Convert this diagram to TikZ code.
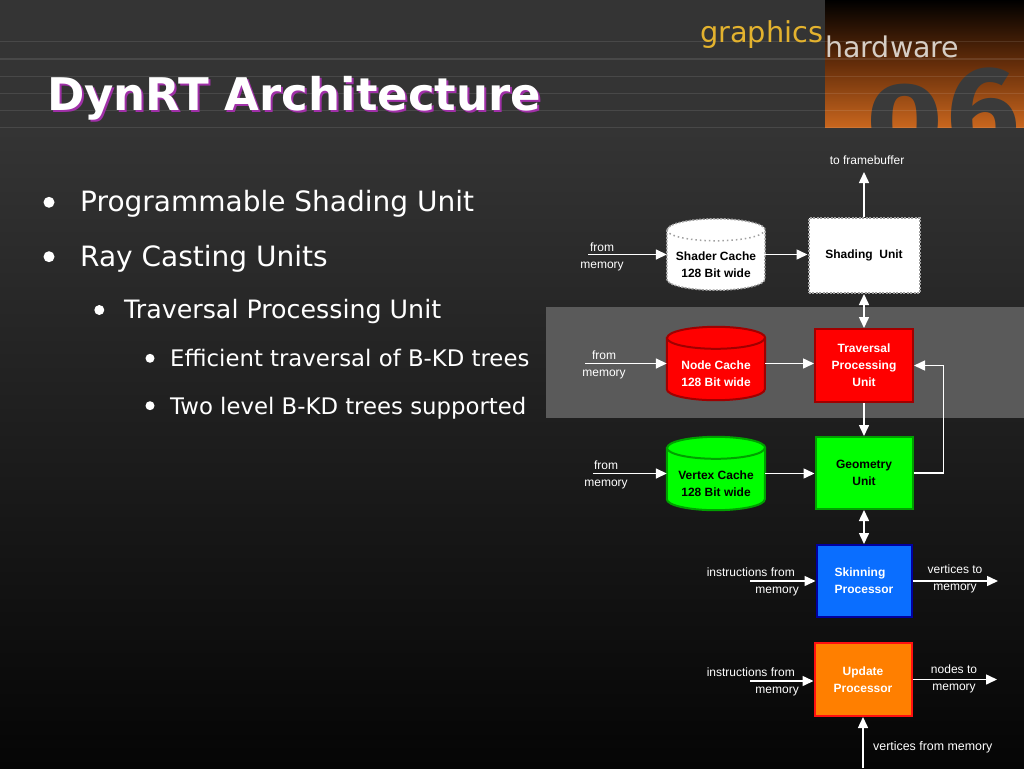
\documentclass[tikz,border=0pt]{standalone}
\usepackage{fontspec}
\setmainfont{DejaVu Sans}
\newfontfamily\diag{Liberation Sans}
\newfontfamily\lognum{Fira Sans}
\usetikzlibrary{arrows.meta}
\definecolor{bgtop}{HTML}{343434}
\definecolor{bgbot}{HTML}{050505}
\definecolor{band}{HTML}{5A5A5A}
\definecolor{gold}{HTML}{E3B22E}
\definecolor{hwgray}{HTML}{D6CEC6}
\definecolor{orng}{HTML}{C8661E}
\definecolor{numgray}{HTML}{3A3A3A}
\definecolor{tshadow}{HTML}{A030A8}
\definecolor{dashgray}{HTML}{A0A0A0}
\definecolor{redfill}{HTML}{FF0000}
\definecolor{redline}{HTML}{A00000}
\definecolor{grnfill}{HTML}{00FF00}
\definecolor{grnline}{HTML}{00A000}
\definecolor{blufill}{HTML}{0A6EFF}
\definecolor{bluline}{HTML}{0000A0}
\definecolor{orgfill}{HTML}{FF7F00}
\definecolor{orgline}{HTML}{FF1010}
\newcommand\mycyl[2]{%
  \draw[#2] ([yshift=-11pt]#1.north west) -- ([yshift=11pt]#1.south west)
    arc[start angle=180,end angle=360,x radius=49pt,y radius=11pt]
    -- ([yshift=-11pt]#1.north east)
    arc[start angle=0,end angle=180,x radius=49pt,y radius=11pt] -- cycle;}
\newcommand\mycylfront[2]{%
  \draw[#2] ([yshift=-11pt]#1.north west)
    arc[start angle=180,end angle=360,x radius=49pt,y radius=11pt];}
\begin{document}
\begin{tikzpicture}[x=1pt,y=-1pt,
  tip/.tip={Triangle[length=11pt,width=10pt]},
  arr/.style={draw=white, line width=1.5pt, -tip},
  darr/.style={draw=white, line width=1.5pt, tip-tip},
  unitbox/.style={rectangle, inner sep=0, line width=2pt, align=center,
    font=\diag\bfseries\fontsize{12}{17}\selectfont},
  cylslot/.style={rectangle, inner sep=0, minimum width=98pt, minimum height=73pt},
  cyltext/.style={inner sep=0, align=center, font=\diag\bfseries\fontsize{12}{17}\selectfont},
  lbl/.style={inner sep=0, text=white, font=\diag\fontsize{12}{17}\selectfont},
  dot/.style={circle, fill=white, inner sep=0},
  bullet1/.style={anchor=base west, inner sep=0, text=white, font=\fontsize{28}{28}\selectfont},
  bullet2/.style={anchor=base west, inner sep=0, text=white, font=\fontsize{25.3}{25.3}\selectfont},
  bullet3/.style={anchor=base west, inner sep=0, text=white, font=\fontsize{22.8}{22.8}\selectfont},
  gridline/.style={draw=white, draw opacity=0.1, line width=1pt}
]
\useasboundingbox (0,0) rectangle (1024,768);
% background
\fill[bgtop] (0,0) rectangle (1024,768);
\shade[top color=bgtop, bottom color=bgbot] (0,130) rectangle (1024,768);
% logo block
\shade[top color=black, bottom color=orng, middle color={rgb,255:red,100;green,45;blue,10}] (825,0) rectangle (1024,127);
\begin{scope}
  \clip (825,0) rectangle (1024,127);
  \node[anchor=base west, inner sep=0, text=numgray, xscale=1.25, font=\lognum\bfseries\fontsize{105}{105}\selectfont] (year0) at (866,156) {0};
  \node[anchor=base west, inner sep=0, text=numgray, font=\lognum\bfseries\fontsize{130}{130}\selectfont] (year6) at (946,157) {6};
\end{scope}
\foreach \yy in {41.5,59,76.5,93.5,110.5,127.5} \draw[gridline] (0,\yy) -- (1024,\yy);
\node[anchor=base west, inner sep=0, text=gold, font=\fontsize{28.8}{28.8}\selectfont] (gfx) at (700,42) {graphics};
\node[anchor=base west, inner sep=0, text=hwgray, font=\fontsize{28.5}{28.5}\selectfont] (hw) at (825,58) {hardware};
% title
\node[anchor=base west, inner sep=0, text=tshadow, font=\bfseries\fontsize{45}{45}\selectfont] (titleshadow) at (49,112) {DynRT Architecture};
\node[anchor=base west, inner sep=0, text=white, font=\bfseries\fontsize{45}{45}\selectfont] (title) at (47,110) {DynRT Architecture};
% highlight band
\fill[band] (546,307) rectangle (1024,418);
% bullets
\node[dot, minimum size=11pt] (b1) at (49,202.3) {};
\node[bullet1] (t1) at (80,211.7) {Programmable Shading Unit};
\node[dot, minimum size=11pt] (b2) at (49,256.7) {};
\node[bullet1] (t2) at (80,266.7) {Ray Casting Units};
\node[dot, minimum size=10pt] (b3) at (99.3,310) {};
\node[bullet2] (t3) at (124,318.3) {Traversal Processing Unit};
\node[dot, minimum size=9pt] (b4) at (150,358.3) {};
\node[bullet3] (t4) at (170,366.7) {Efficient traversal of B-KD trees};
\node[dot, minimum size=9pt] (b5) at (150,405.7) {};
\node[bullet3] (t5) at (170,414.3) {Two level B-KD trees supported};
% diagram boxes
\node[unitbox, fill=white, draw=dashgray, dash pattern=on 2pt off 1.5pt, minimum width=111pt, minimum height=75pt] (shading) at (864,255.5) {Shading~ Unit};
\node[unitbox, fill=redfill, draw=redline, text=white, minimum width=98pt, minimum height=73pt] (trav) at (864,365.5) {Traversal\\Processing\\Unit};
\node[unitbox, fill=grnfill, draw=grnline, text=black, minimum width=97pt, minimum height=72pt] (geom) at (864,473) {Geometry\\Unit};
\node[unitbox, fill=blufill, draw=bluline, text=white, minimum width=95pt, minimum height=72pt, align=left] (skin) at (864,581) {Skinning\\Processor};
\node[unitbox, fill=orgfill, draw=orgline, text=white, minimum width=97pt, minimum height=73pt] (update) at (863,679.5) {Update\\Processor};
% caches
\node[cylslot, minimum height=71pt] (shader) at (716,254.5) {};
\mycyl{shader}{fill=white, draw=dashgray, line width=1.5pt, dash pattern=on 2pt off 1.5pt}
\mycylfront{shader}{draw=dashgray, line width=1.5pt, dash pattern=on 1.5pt off 3pt}
\node[cyltext, text=black] (shadert) at (716,264.5) {Shader Cache\\128 Bit wide};
\node[cylslot] (nodec) at (716,363.5) {};
\mycyl{nodec}{fill=redfill, draw=redline, line width=2pt}
\mycylfront{nodec}{draw=redline, line width=2pt}
\node[cyltext, text=white] (nodect) at (716,373.5) {Node Cache\\128 Bit wide};
\node[cylslot] (vertex) at (716,473.5) {};
\mycyl{vertex}{fill=grnfill, draw=grnline, line width=2pt}
\mycylfront{vertex}{draw=grnline, line width=2pt}
\node[cyltext, text=black] (vertext) at (716,483.5) {Vertex Cache\\128 Bit wide};
% labels
\node[lbl] (fbl) at (867,160) {to framebuffer};
\coordinate (fb) at (864,172);
\node[lbl, align=center] (shfrom) at (602,256.5) {from\\memory};
\coordinate (shin) at (588,254.5);
\node[lbl, align=center] (ndfrom) at (604,364.5) {from\\memory};
\coordinate (ndin) at (585,363.5);
\node[lbl, align=center] (vxfrom) at (606,474.5) {from\\memory};
\coordinate (vxin) at (593,473.5);
\node[lbl, align=right, anchor=east] (skfrom) at (799,581.5) {instructions from\hspace*{4pt}\\memory};
\coordinate (skin-in) at (750,581);
\node[lbl, align=right, anchor=east] (upfrom) at (799,681.5) {instructions from\hspace*{4pt}\\memory};
\coordinate (up-in) at (750,681);
\node[lbl, align=center] (skto) at (955,578.5) {vertices to\\memory};
\coordinate (skout) at (998,581);
\node[lbl, align=center] (upto) at (954,678.5) {nodes to\\memory};
\coordinate (upout) at (997,681);
\node[lbl, anchor=west, font=\diag\fontsize{12.4}{17}\selectfont] (vfm) at (873,747) {vertices from memory};
\coordinate (upbot) at (863,768);
% connectors
\draw[arr] (shading.north) -- (fb);
\draw[arr] (shin) -- (shin -| shader.west);
\draw[arr] (shader.east) -- (shader.east -| shading.west);
\draw[darr] (shading.south) -- (trav.north);
\draw[arr] (ndin) -- (ndin -| nodec.west);
\draw[arr] (nodec.east) -- (nodec.east -| trav.west);
\draw[arr] (trav.south) -- (geom.north);
\draw[arr] (geom.east) -- ++(30,0) |- (trav.east);
\draw[arr] (vxin) -- (vxin -| vertex.west);
\draw[arr] (vertex.east) -- (vertex.east -| geom.west);
\draw[darr] (geom.south) -- (skin.north);
\draw[arr] (skin-in) -- (skin-in -| skin.west);
\draw[arr] (skin.east) -- (skin.east -| skout);
\draw[arr] (up-in) -- (up-in -| update.west);
\draw[arr] (update.east) -- (update.east -| upout);
\draw[arr] (upbot) -- (update.south);
\end{tikzpicture}
\end{document}
